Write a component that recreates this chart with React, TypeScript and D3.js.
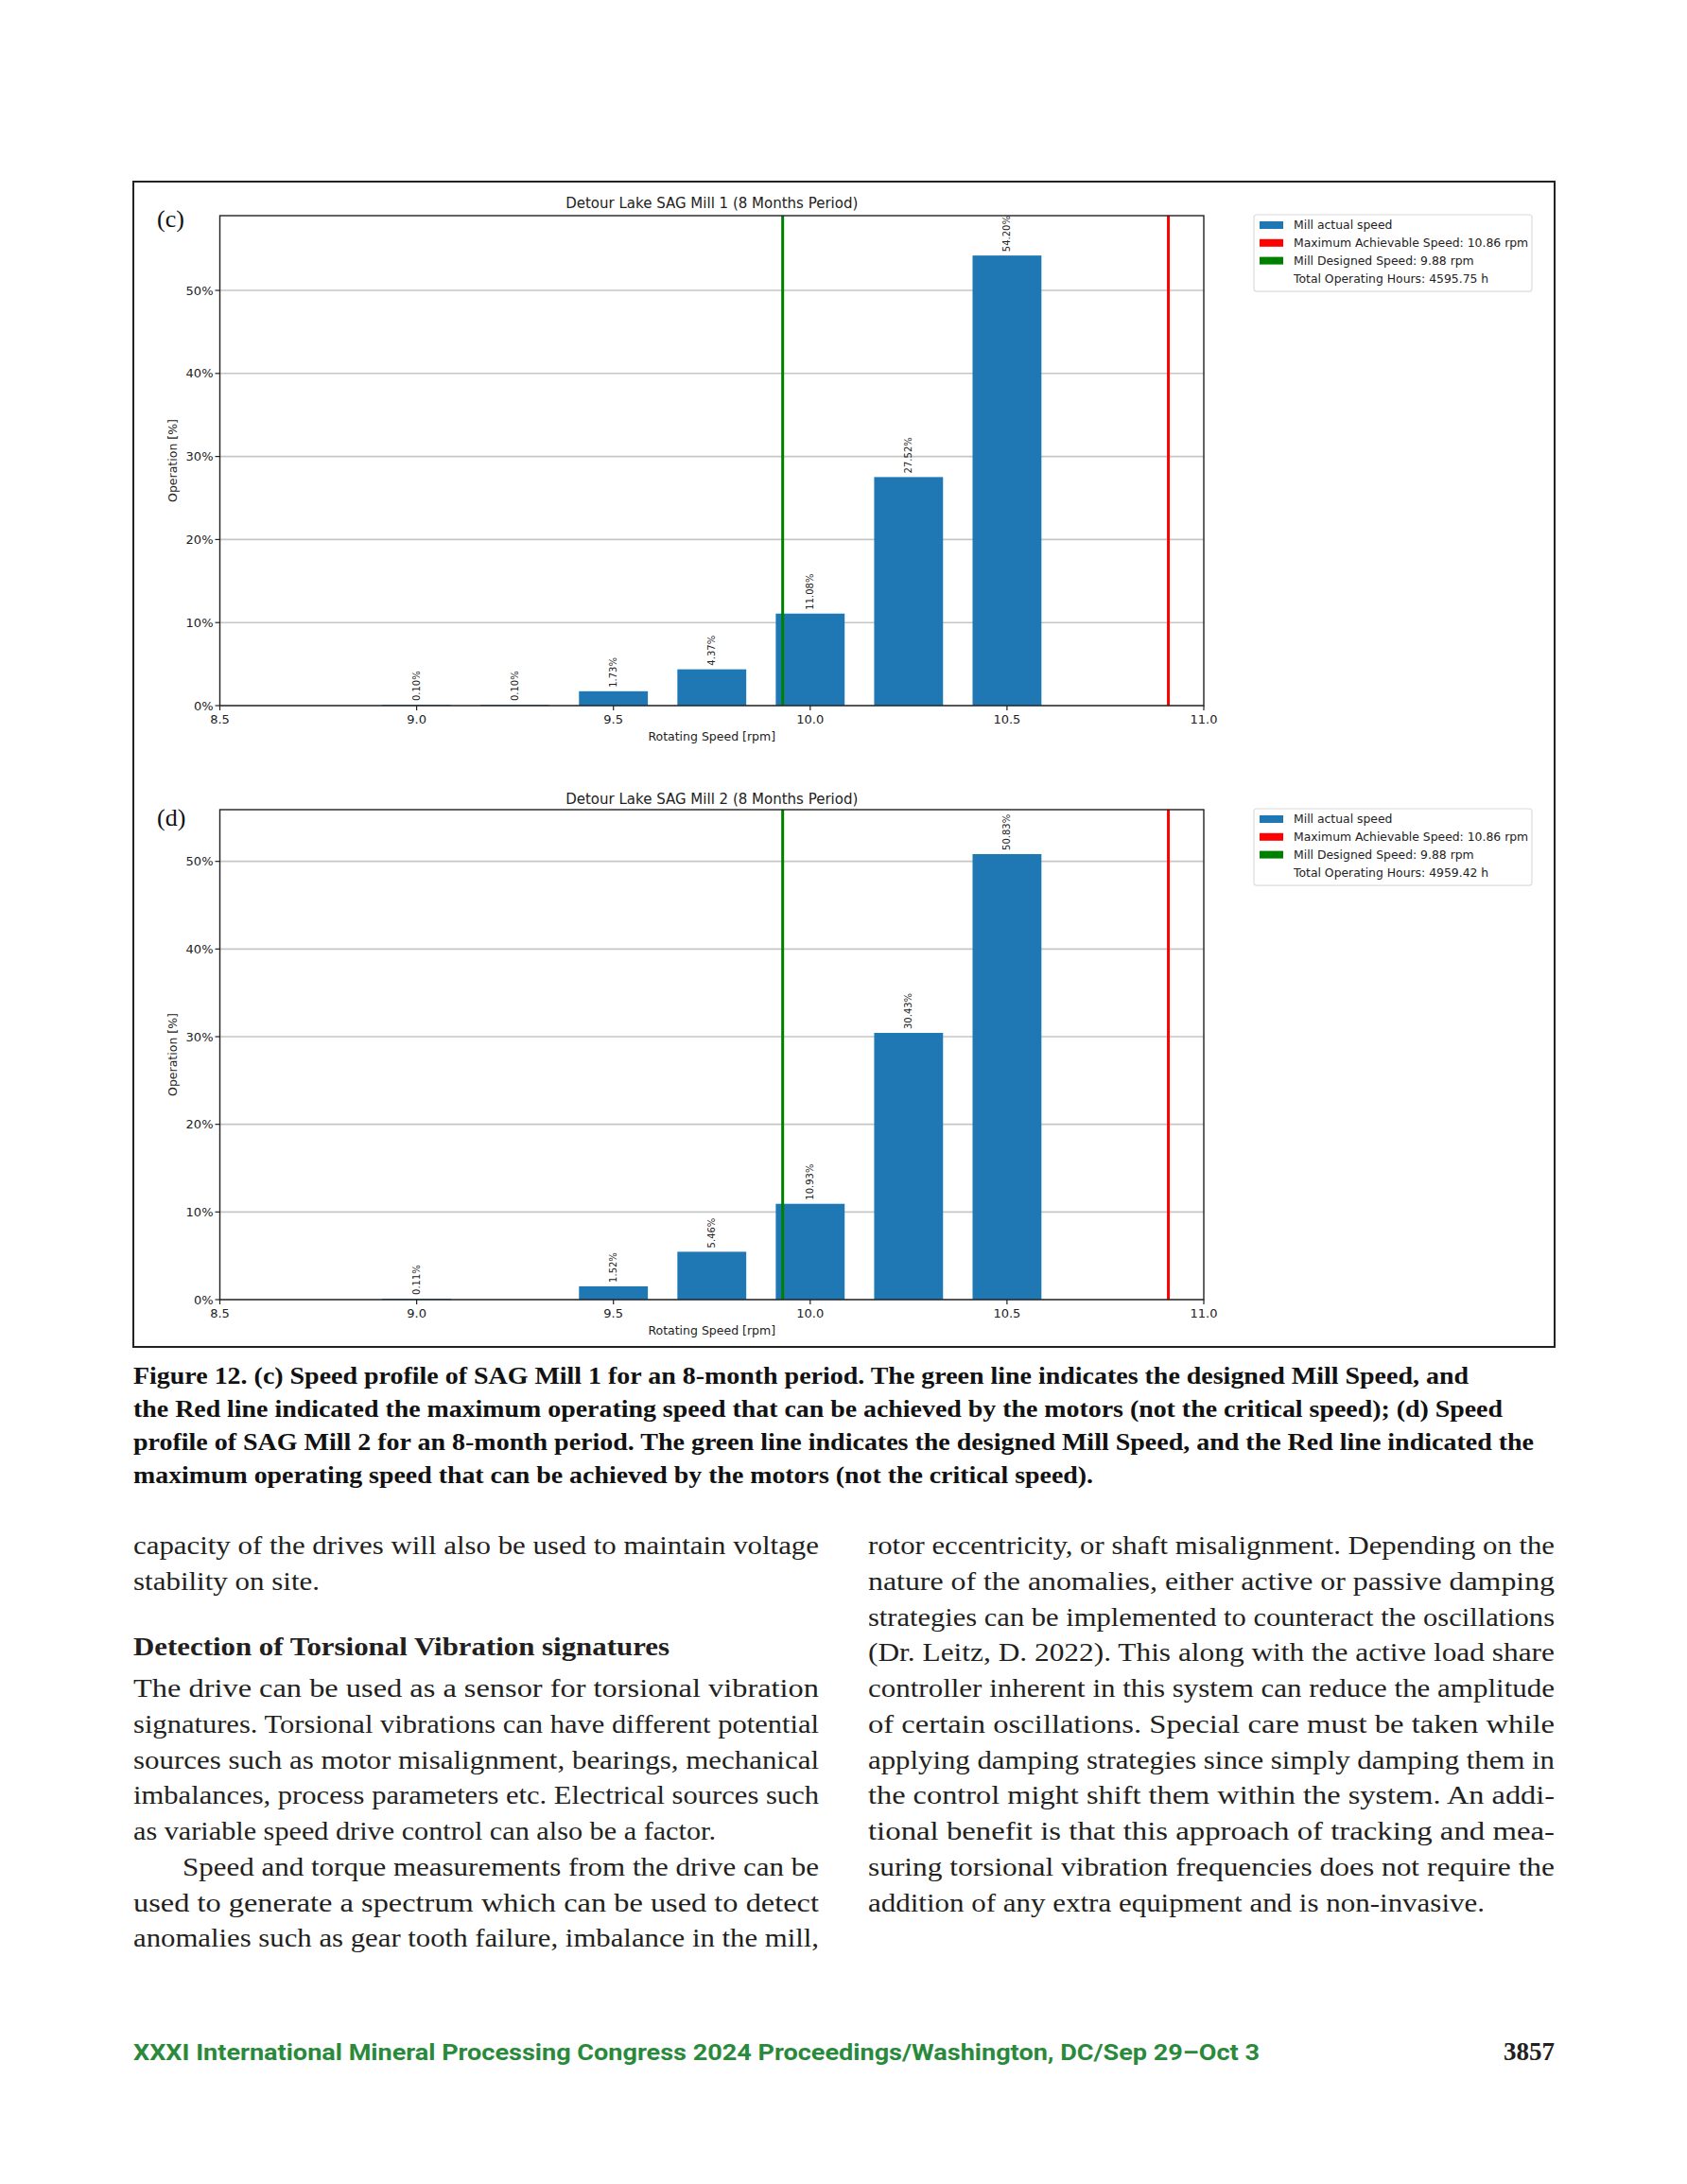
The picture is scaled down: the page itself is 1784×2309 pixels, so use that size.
import React from "react";
import * as d3 from "d3";

// ---------- data ----------
const speedsMill1 = [9.0, 9.25, 9.5, 9.75, 10.0, 10.25, 10.5];
const valuesMill1 = [0.1, 0.1, 1.73, 4.37, 11.08, 27.52, 54.2];
const speedsMill2 = [9.0, 9.5, 9.75, 10.0, 10.25, 10.5];
const valuesMill2 = [0.11, 1.52, 5.46, 10.93, 30.43, 50.83];
const xTicks = [8.5, 9.0, 9.5, 10.0, 10.5, 11.0];
const yTicks = [0, 10, 20, 30, 40, 50];
const xDomain = [8.5, 11.0];
const yMaxes = [59.0, 55.9];
const designedLineX = 9.93; // as drawn in the picture
const maxLineX = 10.91; // as drawn in the picture
const titles = [
  "Detour Lake SAG Mill 1 (8 Months Period)",
  "Detour Lake SAG Mill 2 (8 Months Period)",
];
const panelLetters = ["(c)", "(d)"];
const legendSeries = [
  "Mill actual speed",
  "Maximum Achievable Speed: 10.86 rpm",
  "Mill Designed Speed: 9.88 rpm",
];
const totalHours = ["Total Operating Hours: 4595.75 h", "Total Operating Hours: 4959.42 h"];

const captionLines = [
  "Figure 12. (c) Speed profile of SAG Mill 1 for an 8-month period. The green line indicates the designed Mill Speed, and",
  "the Red line indicated the maximum operating speed that can be achieved by the motors (not the critical speed); (d) Speed",
  "profile of SAG Mill 2 for an 8-month period. The green line indicates the designed Mill Speed, and the Red line indicated the",
  "maximum operating speed that can be achieved by the motors (not the critical speed).",
];
const leftTop = [
  "capacity of the drives will also be used to maintain voltage",
  "stability on site.",
];
const heading = "Detection of Torsional Vibration signatures";
const leftBottom = [
  "The drive can be used as a sensor for torsional vibration",
  "signatures. Torsional vibrations can have different potential",
  "sources such as motor misalignment, bearings, mechanical",
  "imbalances, process parameters etc. Electrical sources such",
  "as variable speed drive control can also be a factor.",
  "Speed and torque measurements from the drive can be",
  "used to generate a spectrum which can be used to detect",
  "anomalies such as gear tooth failure, imbalance in the mill,",
];
const rightLines = [
  "rotor eccentricity, or shaft misalignment. Depending on the",
  "nature of the anomalies, either active or passive damping",
  "strategies can be implemented to counteract the oscillations",
  "(Dr. Leitz, D. 2022). This along with the active load share",
  "controller inherent in this system can reduce the amplitude",
  "of certain oscillations. Special care must be taken while",
  "applying damping strategies since simply damping them in",
  "the control might shift them within the system. An addi-",
  "tional benefit is that this approach of tracking and mea-",
  "suring torsional vibration frequencies does not require the",
  "addition of any extra equipment and is non-invasive.",
];
const footerText = "XXXI International Mineral Processing Congress 2024 Proceedings/Washington, DC/Sep 29\u2013Oct 3";
const pageNumber = "3857";

// ---------- layout ----------
const W = 1784;
const H = 2309;
const plotLeft = 232.5;
const plotRight = 1273;
const panels = [
  { top: 228, bottom: 746, titleY: 220, letterY: 240, legendTop: 228, speeds: speedsMill1, values: valuesMill1 },
  { top: 856, bottom: 1374, titleY: 850, letterY: 873, legendTop: 856, speeds: speedsMill2, values: valuesMill2 },
];
const BAR_W = 0.175;
const chartFont = "'DejaVu Sans', sans-serif";
const serif = "'Liberation Serif', 'DejaVu Serif', serif";

function Panel({ idx }: { idx: number }) {
  const p = panels[idx];
  const x = d3.scaleLinear().domain(xDomain).range([plotLeft, plotRight]);
  const y = d3.scaleLinear().domain([0, yMaxes[idx]]).range([p.bottom, p.top]);
  const legendColors = ["#1f77b4", "#ff0000", "#008000"];
  const lx = 1326;
  const lstep = 18.8;
  return (
    <g>
      <text x={166} y={p.letterY} fontFamily={serif} fontSize={26} fill="#111">
        {panelLetters[idx]}
      </text>
      <text x={(plotLeft + plotRight) / 2} y={p.titleY} textAnchor="middle" fontFamily={chartFont} fontSize={15} fill="#222">
        {titles[idx]}
      </text>
      {yTicks.map((t) => (
        <line key={"g" + t} x1={plotLeft} x2={plotRight} y1={y(t)} y2={y(t)} stroke="#c6c6c6" strokeWidth={1.6} />
      ))}
      {p.speeds.map((s, i) => (
        <rect
          key={"b" + i}
          x={x(s - BAR_W / 2)}
          width={x(s + BAR_W / 2) - x(s - BAR_W / 2)}
          y={y(p.values[i])}
          height={Math.max(y(0) - y(p.values[i]), 0)}
          fill="#1f77b4"
        />
      ))}
      {p.speeds.map((s, i) => (
        <text
          key={"l" + i}
          transform={`translate(${x(s) + 3.5},${y(p.values[i]) - 4}) rotate(-90)`}
          fontFamily={chartFont}
          fontSize={10}
          fill="#222"
        >
          {p.values[i].toFixed(2) + "%"}
        </text>
      ))}
      <line x1={x(designedLineX)} x2={x(designedLineX)} y1={p.top} y2={p.bottom} stroke="#008000" strokeWidth={3} />
      <line x1={x(maxLineX)} x2={x(maxLineX)} y1={p.top} y2={p.bottom} stroke="#ff0000" strokeWidth={3} />
      <rect x={plotLeft} y={p.top} width={plotRight - plotLeft} height={p.bottom - p.top} fill="none" stroke="#222" strokeWidth={1.4} />
      {xTicks.map((t) => (
        <g key={"xt" + t}>
          <line x1={x(t)} x2={x(t)} y1={p.bottom} y2={p.bottom + 5} stroke="#222" strokeWidth={1.2} />
          <text x={x(t)} y={p.bottom + 19} textAnchor="middle" fontFamily={chartFont} fontSize={13} fill="#222">
            {t.toFixed(1)}
          </text>
        </g>
      ))}
      {yTicks.map((t) => (
        <g key={"yt" + t}>
          <line x1={plotLeft - 5} x2={plotLeft} y1={y(t)} y2={y(t)} stroke="#222" strokeWidth={1.2} />
          <text x={plotLeft - 7} y={y(t) + 4.6} textAnchor="end" fontFamily={chartFont} fontSize={13} fill="#222">
            {t + "%"}
          </text>
        </g>
      ))}
      <text x={(plotLeft + plotRight) / 2} y={p.bottom + 37} textAnchor="middle" fontFamily={chartFont} fontSize={12.5} fill="#222">
        Rotating Speed [rpm]
      </text>
      <text
        transform={`translate(${187},${(p.top + p.bottom) / 2}) rotate(-90)`}
        textAnchor="middle"
        fontFamily={chartFont}
        fontSize={12.5}
        fill="#222"
      >
        Operation [%]
      </text>
      <rect x={lx} y={p.legendTop - 1} width={294} height={lstep * 4 + 6} rx={3} fill="#fff" stroke="#dcdcdc" strokeWidth={1.2} />
      {legendSeries.map((s, i) => (
        <g key={"lg" + i}>
          <rect x={lx + 6} y={p.legendTop + 10 + i * lstep - 4} width={25} height={8} fill={legendColors[i]} />
          <text x={lx + 42} y={p.legendTop + 10 + i * lstep + 4.3} fontFamily={chartFont} fontSize={12.4} fill="#222">
            {s}
          </text>
        </g>
      ))}
      <text x={lx + 42} y={p.legendTop + 10 + 3 * lstep + 4.3} fontFamily={chartFont} fontSize={12.4} fill="#222">
        {totalHours[idx]}
      </text>
    </g>
  );
}

function JLine({ text, x0, x1, y, bold, size, fill }: any) {
  return (
    <text
      x={x0}
      y={y}
      textLength={x1 - x0}
      lengthAdjust="spacingAndGlyphs"
      fontFamily={serif}
      fontWeight={bold ? "bold" : "normal"}
      fontSize={size}
      fill={fill || "#231f20"}
    >
      {text}
    </text>
  );
}

export default function App() {
  const captionEnds = [1553, 1589, 1622, 1156];
  const captionYs = [1463, 1498, 1533, 1568];
  const L0 = 141;
  const L1 = 866;
  const R0 = 918;
  const R1 = 1644;
  const step = 37.75;
  const leftBottomX0 = [L0, L0, L0, L0, L0, 193, L0, L0];
  const leftBottomX1 = [L1, L1, L1, L1, 757, L1, L1, L1];
  return (
    <svg width={W} height={H} viewBox={`0 0 ${W} ${H}`} style={{ position: "absolute", left: 0, top: 0, display: "block", background: "#fff" }}>
      <rect x={0} y={0} width={W} height={H} fill="#fff" />
      <rect x={141} y={192} width={1503} height={1232} fill="#fff" stroke="#222" strokeWidth={2} />
      <Panel idx={0} />
      <Panel idx={1} />
      {captionLines.map((t, i) => (
        <JLine key={"c" + i} text={t} x0={L0} x1={captionEnds[i]} y={captionYs[i]} bold size={25} fill="#111" />
      ))}
      <JLine text={leftTop[0]} x0={L0} x1={L1} y={1643} size={28} />
      <JLine text={leftTop[1]} x0={L0} x1={338} y={1643 + step} size={28} />
      <JLine text={heading} x0={L0} x1={708} y={1750} bold size={28} />
      {leftBottom.map((t, i) => (
        <JLine key={"lb" + i} text={t} x0={leftBottomX0[i]} x1={leftBottomX1[i]} y={1643 + (i + 4) * step} size={28} />
      ))}
      {rightLines.map((t, i) => (
        <JLine key={"r" + i} text={t} x0={R0} x1={i === rightLines.length - 1 ? 1570 : R1} y={1643 + i * step} size={28} />
      ))}
      <text x={141} y={2178} textLength={1191} lengthAdjust="spacingAndGlyphs" fontFamily="Roboto, 'Liberation Sans', sans-serif" fontWeight="bold" fontSize={23} fill="#2a8a3c">
        {footerText}
      </text>
      <text x={1644} y={2178} textAnchor="end" fontFamily={serif} fontWeight="bold" fontSize={27} fill="#231f20">
        {pageNumber}
      </text>
    </svg>
  );
}
